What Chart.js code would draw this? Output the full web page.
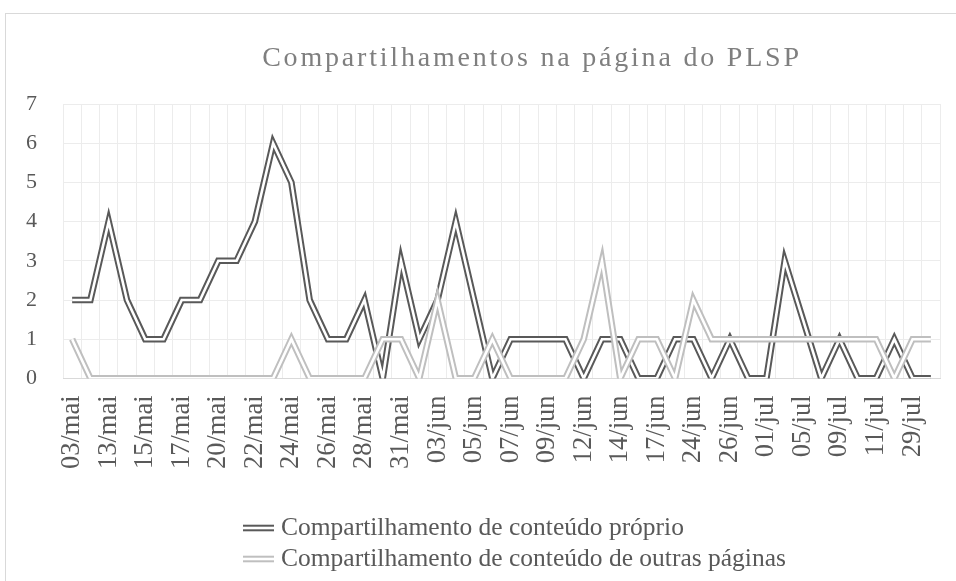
<!DOCTYPE html>
<html>
<head>
<meta charset="utf-8">
<script src="https://cdn.jsdelivr.net/npm/chart.js@4.4.0/dist/chart.umd.min.js"></script>
<style>
    html, body { margin: 0; padding: 0; background: #fff; }
    #wrap { position: relative; width: 956px; height: 581px; overflow: hidden; }
    #frame { position: absolute; left: 5px; top: 13px; width: 1100px; height: 700px; border: 1px solid #d9d9d9; box-sizing: border-box; }
    canvas { position: absolute; left: 0; top: 0; }
</style>
</head>
<body>
<div id="wrap">
    <div id="frame"></div>
    <canvas id="chart" width="956" height="581"></canvas>
</div>
<script>
// datas (só as de índice par aparecem no eixo)
const dates = [
    '03/mai', '12/mai', '13/mai', '14/mai', '15/mai', '16/mai', '17/mai', '19/mai',
    '20/mai', '21/mai', '22/mai', '23/mai', '24/mai', '25/mai', '26/mai', '27/mai',
    '28/mai', '30/mai', '31/mai', '01/jun', '03/jun', '04/jun', '05/jun', '06/jun',
    '07/jun', '08/jun', '09/jun', '10/jun', '12/jun', '13/jun', '14/jun', '16/jun',
    '17/jun', '20/jun', '24/jun', '25/jun', '26/jun', '28/jun', '01/jul', '03/jul',
    '05/jul', '07/jul', '09/jul', '10/jul', '11/jul', '25/jul', '29/jul', '31/jul'
];

const ownShares = [
    2, 2, 4, 2, 1, 1, 2, 2, 3, 3, 4, 6, 5, 2, 1, 1,
    2, 0, 3, 1, 2, 4, 2, 0, 1, 1, 1, 1, 0, 1, 1, 0,
    0, 1, 1, 0, 1, 0, 0, 3, 1.5, 0, 1, 0, 0, 1, 0, 0
];

const otherShares = [
    1, 0, 0, 0, 0, 0, 0, 0, 0, 0, 0, 0, 1, 0, 0, 0,
    0, 1, 1, 0, 2, 0, 0, 1, 0, 0, 0, 0, 1, 3, 0, 1,
    1, 0, 2, 1, 1, 1, 1, 1, 1, 1, 1, 1, 1, 0, 1, 1
];

const seriesNames = ['Compartilhamento de conteúdo próprio', 'Compartilhamento de conteúdo de outras páginas'];
const chartTitle = 'Compartilhamentos na página do PLSP';
const yMax = 7;

const DARK = '#595959';
const LIGHT = '#bfbfbf';

// linha dupla: traço grosso colorido + traço fino branco por cima
function doubleLine(label, data, color, order, inner) {
    return {
        label: label,
        data: data,
        borderColor: inner ? '#ffffff' : color,
        lineColor: color,
        borderWidth: inner ? 2.6 : 6.6,
        borderJoinStyle: 'miter',
        pointRadius: 0,
        tension: 0,
        fill: false,
        order: order,
        inLegend: !inner
    };
}

// título e legenda desenhados à mão (espaçamento de letras, duas linhas)
const titleAndLegend = {
    id: 'titleAndLegend',
    afterDraw(chart) {
        const ctx = chart.ctx;
        ctx.save();
        ctx.font = '28px "Liberation Serif"';
        ctx.fillStyle = '#7f7f7f';
        ctx.textAlign = 'center';
        ctx.textBaseline = 'alphabetic';
        ctx.letterSpacing = '2.8px';
        ctx.fillText(chartTitle, 532, 66);
        ctx.letterSpacing = '0px';

        ctx.font = '25.5px "Liberation Serif"';
        ctx.fillStyle = DARK;
        ctx.textAlign = 'left';
        chart.data.datasets.filter(ds => ds.inLegend).forEach((ds, i) => {
            const y = 528 + i * 31;
            ctx.beginPath();
            ctx.moveTo(243, y);
            ctx.lineTo(274, y);
            ctx.lineWidth = 6.6;
            ctx.strokeStyle = ds.lineColor;
            ctx.stroke();
            ctx.lineWidth = 2.6;
            ctx.strokeStyle = '#ffffff';
            ctx.stroke();
            ctx.fillText(ds.label, 281, y + 7);
        });
        ctx.restore();
    }
};

const ctx = document.getElementById('chart');

const sharesChart = new Chart(ctx,
    {
        type: 'line',
        plugins: [titleAndLegend],

        data: {
            labels: dates,
            datasets: [
                doubleLine(seriesNames[0], ownShares, DARK, 4, false),
                doubleLine(seriesNames[0], ownShares, DARK, 3, true),
                doubleLine(seriesNames[1], otherShares, LIGHT, 2, false),
                doubleLine(seriesNames[1], otherShares, LIGHT, 1, true)
            ]
        },

        options: {
            responsive: false,
            animation: false,

            layout: {
                padding: { left: 0, right: 16, top: 104, bottom: 95 }
            },

            plugins: {
                legend: { display: false },
                title: { display: false },
                tooltip: { enabled: false }
            },

            scales: {
                x: {
                    offset: true,
                    // sem folga extra à direita por causa do último rótulo girado
                    afterFit: function (scale) {
                        scale.paddingRight = 0;
                    },
                    grid: {
                        offset: true,
                        color: '#ececec',
                        drawTicks: false
                    },
                    border: { color: '#d9d9d9' },
                    ticks: {
                        autoSkip: false,
                        minRotation: 90,
                        maxRotation: 90,
                        padding: 17,
                        color: DARK,
                        font: { family: 'Liberation Serif', size: 26.5 },
                        callback: function (value, index) {
                            return index % 2 === 0 ? this.getLabelForValue(value) : '';
                        }
                    }
                },

                y: {
                    min: 0,
                    max: yMax,
                    grid: {
                        color: '#ececec',
                        drawTicks: false
                    },
                    border: { display: false },
                    ticks: {
                        stepSize: 1,
                        padding: 26,
                        color: DARK,
                        font: { family: 'Liberation Serif', size: 22 }
                    }
                }
            }
        }
    });
</script>
</body>
</html>
